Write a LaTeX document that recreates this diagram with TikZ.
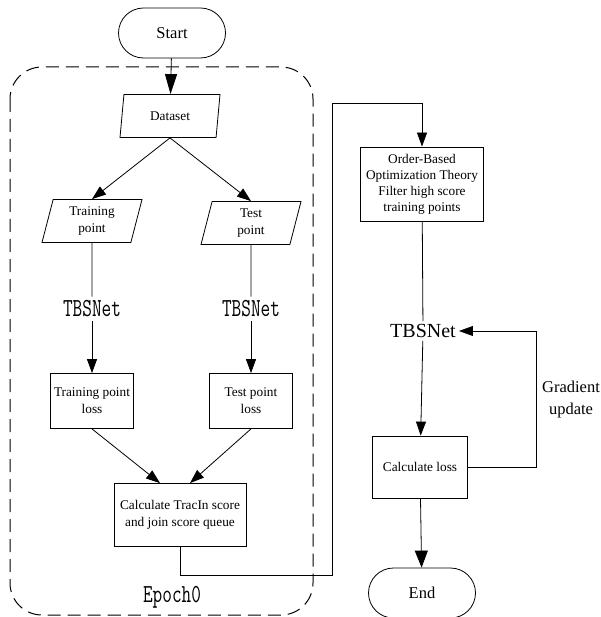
\documentclass[tikz,border=0pt]{standalone}
\usepackage{fontspec}
\setmainfont{Liberation Serif}
\newfontfamily\netfont[FakeStretch=0.72]{Latin Modern Mono}
\definecolor{Linecol}{HTML}{000000}
\usetikzlibrary{arrows.meta, shapes.geometric, positioning}
\tikzset{
    >={Triangle[length=14pt, width=10pt]},
    font=\fontsize{13.3}{17}\selectfont,
    proc/.style={draw, thick, align=center, inner sep=2pt},
    term/.style={draw, thick, rounded corners=25pt, minimum width=107pt, minimum height=50pt, font=\fontsize{16.5}{20}\selectfont},
    iobox/.style={draw, thick, trapezium, trapezium left angle=70, trapezium right angle=110,
        trapezium stretches body, minimum width=100pt, minimum height=43pt, align=center, inner sep=1pt},
    netlbl/.style={font=\netfont\fontsize{26}{28}\selectfont, inner sep=4pt},
    flow/.style={thick, ->}
}

\begin{document}
\begin{tikzpicture}[x=1pt, y=-1pt]
    \useasboundingbox (0,0) rectangle (600,617);

    % Epoch box
    \draw[line width=1pt, dash pattern=on 13pt off 7pt, rounded corners=32pt] (10,67) rectangle (313,615);
    \node[netlbl] (epochlbl) at (172,597) {Epoch0};

    % Left part
    \node[term] (start) at (172,33) {Start};
    \node[iobox] (dataset) at (170,116) {Dataset};
    \node[iobox] (trainpt) at (92,221) {Training\\point};
    \node[iobox] (testpt) at (251,223) {Test\\point};
    \node[netlbl] (netA) at (92,309) {TBSNet};
    \node[netlbl] (netB) at (251,309) {TBSNet};
    \node[proc, minimum width=83pt, minimum height=55pt] (trainloss) at (92,401) {Training point\\loss};
    \node[proc, minimum width=83pt, minimum height=55pt] (testloss) at (251,401) {Test point\\loss};
    \node[proc, minimum width=132pt, minimum height=63pt] (calc) at (180,515) {Calculate TracIn score\\and join score queue};

    % Right part
    \node[proc, minimum width=123pt, minimum height=74pt, font=\fontsize{13.3}{16}\selectfont] (order) at (422,184)
        {Order-Based\\Optimization Theory\\Filter high score\\training points};
    \node[font=\fontsize{20}{24}\selectfont, inner sep=3pt] (netR) at (423,331) {TBSNet};
    \node[proc, minimum width=95pt, minimum height=62pt] (calcloss) at (420,467) {Calculate loss};
    \node[term] (finish) at (422,593) {End};
    \node[align=center, font=\fontsize{16.5}{22}\selectfont] (gradlbl) at (571,400) {Gradient\\update};

    % Bend points
    \coordinate (bendA) at (332,575);
    \coordinate (bendB) at (332,103);
    \coordinate (fbk) at (536,331);

    % Connectors
    \draw[thick, ->, >={Triangle[length=20pt, width=12pt]}] (start) -- (dataset);
    \draw[flow] (dataset.south) -- (trainpt.north);
    \draw[flow] (dataset.south) -- (testpt.north);
    \draw[thick] (trainpt) -- (netA);
    \draw[thick] (testpt) -- (netB);
    \draw[flow] (netA) -- (trainloss);
    \draw[flow] (netB) -- (testloss);
    \draw[flow] (trainloss.south) -- (calc.north -| 160,0);
    \draw[flow] (testloss.south) -- (calc.north -| 190,0);
    \draw[flow] (calc.south) |- (bendA) -- (bendB) -| (order.north);
    \draw[thick] (order) -- (netR);
    \draw[flow] (netR) -- (calcloss);
    \draw[flow] (calcloss.east) -| (fbk) -- (netR.east);
    \draw[thick, ->, >={Triangle[length=17pt, width=13pt]}] (calcloss) -- (finish);
\end{tikzpicture}
\end{document}
